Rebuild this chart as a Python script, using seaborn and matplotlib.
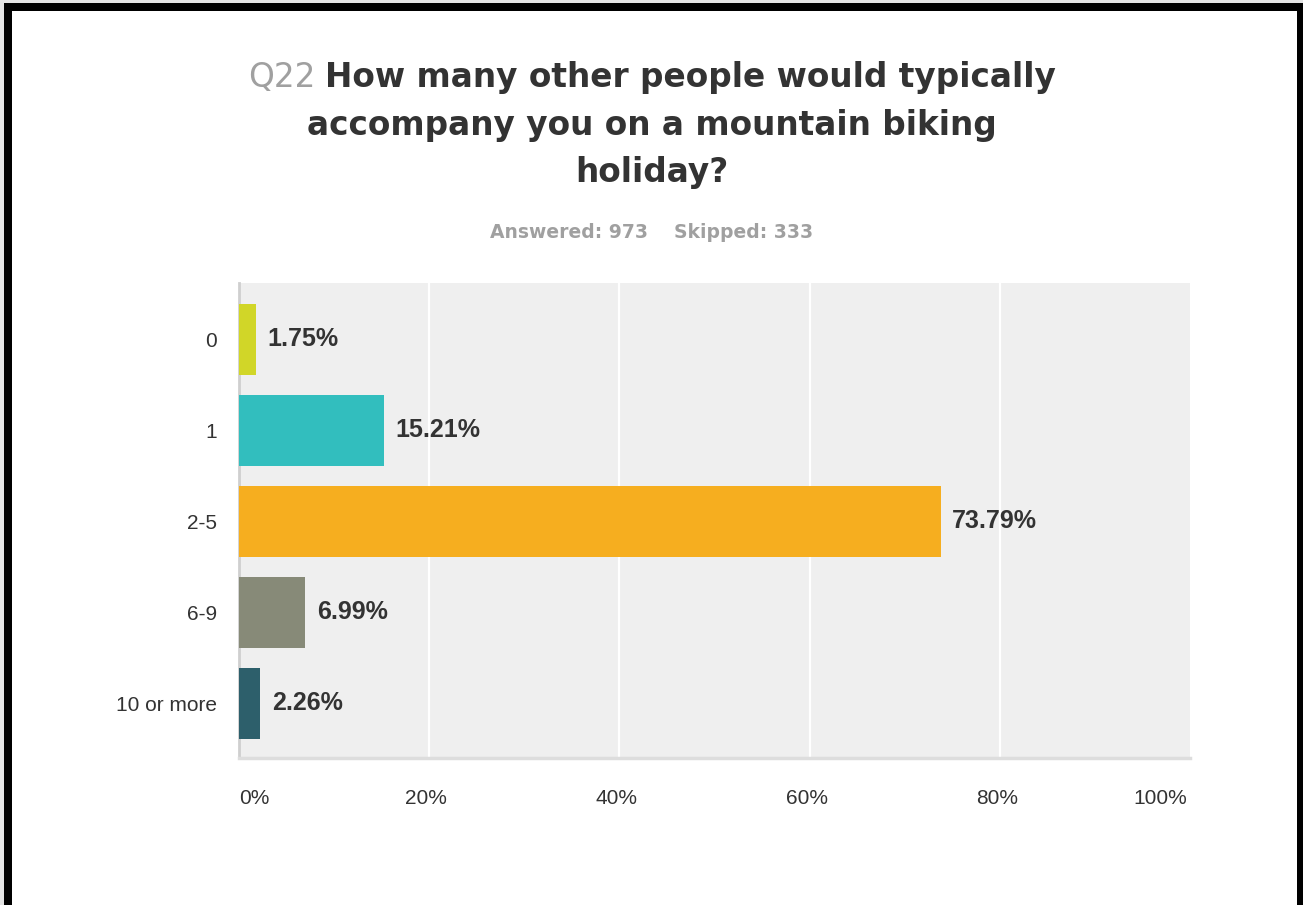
import matplotlib
matplotlib.use("Agg")
import matplotlib.pyplot as plt
from matplotlib.patches import Rectangle
from matplotlib.transforms import ScaledTranslation
import seaborn as sns
import pandas as pd

# Survey question Q22 responses
categories = ["0", "1", "2-5", "6-9", "10 or more"]
percentages = [1.75, 15.21, 73.79, 6.99, 2.26]
bar_colors = ["#d1d628", "#32bebe", "#f6ae1f", "#878a78", "#2d5f6b"]
x_ticks = [0, 20, 40, 60, 80, 100]
x_tick_labels = ["0%", "20%", "40%", "60%", "80%", "100%"]
question_id = "Q22"
title_lines = ["How many other people would typically",
               "accompany you on a mountain biking",
               "holiday?"]
answered = 973
skipped = 333

sns.set_theme(style="white")
plt.rcParams["font.family"] = ["Liberation Sans", "DejaVu Sans"]
title_font = ["DejaVu Sans"]

W, H = 1303, 905
fig = plt.figure(figsize=(W / 100, H / 100), dpi=100)
fig.patch.set_facecolor("#e4e4e4")

# Black frame around a white card
fig.patches.append(Rectangle((4 / W, 0), (W - 4) / W, 1 - 3 / H,
                             transform=fig.transFigure, facecolor="black",
                             edgecolor="none", zorder=-3))
fig.patches.append(Rectangle((12 / W, 0), (1297 - 12) / W, 1 - 11 / H,
                             transform=fig.transFigure, facecolor="white",
                             edgecolor="none", zorder=-2))

ax = fig.add_axes([239 / W, 1 - 758 / H, (1190 - 239) / W, (758 - 283) / H])
ax.set_facecolor("#efefef")

df = pd.DataFrame({"category": categories, "pct": percentages})
sns.barplot(data=df, x="pct", y="category", hue="category", palette=bar_colors,
            orient="h", width=0.78, legend=False, ax=ax, saturation=1,
            edgecolor="none", zorder=3)

ax.set_xlim(0, 100)
ax.set_ylim(4.6, -0.62)
ax.set_xlabel("")
ax.set_ylabel("")

for v in x_ticks[1:-1]:
    ax.axvline(v, color="white", lw=1.6, zorder=1)

for i, v in enumerate(percentages):
    ax.text(v + 1.2, i, f"{v:.2f}%", va="center", ha="left",
            fontsize=18, fontweight="bold", color="#333333", zorder=4)

for s in ["top", "right"]:
    ax.spines[s].set_visible(False)
ax.spines["left"].set_color("#cfcfcf")
ax.spines["left"].set_linewidth(2)
ax.spines["bottom"].set_color("#dddddd")
ax.spines["bottom"].set_linewidth(2.5)

ax.set_xticks(x_ticks)
ax.set_xticklabels(x_tick_labels, fontsize=15, color="#333333")
ax.tick_params(axis="x", length=0, pad=22)
labels = ax.get_xticklabels()
labels[0].set_ha("left")
labels[-1].set_ha("right")
for lab in labels[1:]:
    lab.set_transform(lab.get_transform() +
                      ScaledTranslation(-3 / 100, 0, fig.dpi_scale_trans))
ax.tick_params(axis="y", length=0, pad=16, labelsize=15, labelcolor="#333333")

# Title: grey question id followed by bold question text
renderer = fig.canvas.get_renderer()
cx = 652 / W
baselines = [87, 135, 182]
tsize = 23.6
q = fig.text(0, 0, question_id, fontsize=tsize, color="#a0a0a0", family=title_font)
wq = q.get_window_extent(renderer).width
q.remove()
first = fig.text(0, 0, title_lines[0], fontsize=tsize, fontweight="bold",
                 family=title_font)
wr = first.get_window_extent(renderer).width
first.remove()
gap = 0.32 * tsize * 100 / 72
total = wq + gap + wr
left = 652 - total / 2
fig.text(left / W, 1 - baselines[0] / H, question_id, fontsize=tsize,
         color="#a0a0a0", ha="left", va="baseline", family=title_font)
fig.text((left + total) / W, 1 - baselines[0] / H, title_lines[0],
         fontsize=tsize, fontweight="bold", color="#333333",
         ha="right", va="baseline", family=title_font)
for line, b in zip(title_lines[1:], baselines[1:]):
    fig.text(cx, 1 - b / H, line, fontsize=tsize, fontweight="bold",
             color="#333333", ha="center", va="baseline", family=title_font)

fig.text(cx, 1 - 238 / H, f"Answered: {answered}    Skipped: {skipped}",
         fontsize=13.5, fontweight="bold", color="#a0a0a0",
         ha="center", va="baseline", family=title_font)

fig.savefig("out.png", dpi=100, facecolor=fig.get_facecolor())
